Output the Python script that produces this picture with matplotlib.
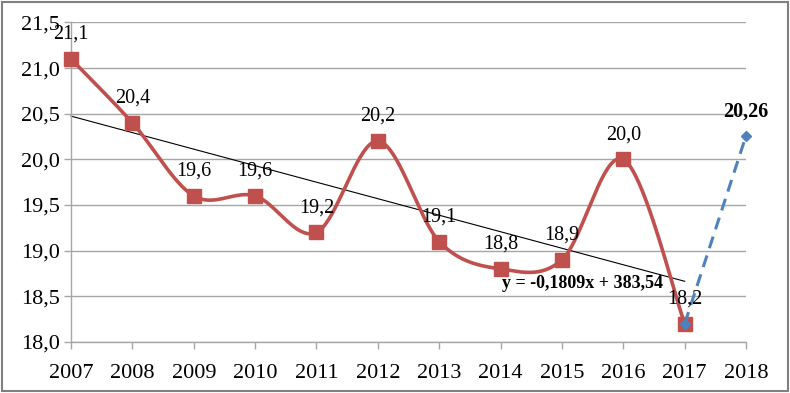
import numpy as np
import matplotlib.pyplot as plt
from matplotlib.patches import Rectangle

plt.rcParams['font.family'] = ['Liberation Serif', 'DejaVu Serif']

years = [2007, 2008, 2009, 2010, 2011, 2012, 2013, 2014, 2015, 2016, 2017]
values = [21.1, 20.4, 19.6, 19.6, 19.2, 20.2, 19.1, 18.8, 18.9, 20.0, 18.2]
forecast_years = [2017, 2018]
forecast_values = [18.2, 20.26]
trend_slope = -0.1809
trend_icept = 383.54
x_ticks = list(range(2007, 2019))
y_ticks = [18.0, 18.5, 19.0, 19.5, 20.0, 20.5, 21.0, 21.5]

RED = '#C0504D'
BLUE = '#4F81BD'
GRID = '#A6A6A6'


def catmull_rom(xs, ys, n=40):
    # smooth curve through points, like Excel's "smoothed line"
    xs = np.asarray(xs, float)
    ys = np.asarray(ys, float)
    px = np.concatenate([[xs[0]], xs, [xs[-1]]])
    py = np.concatenate([[ys[0]], ys, [ys[-1]]])
    out_x, out_y = [], []
    t = np.linspace(0, 1, n)
    for i in range(1, len(px) - 2):
        p0, p1, p2, p3 = px[i-1], px[i], px[i+1], px[i+2]
        q0, q1, q2, q3 = py[i-1], py[i], py[i+1], py[i+2]
        # bezier control points (tension 1/6)
        c1x, c1y = p1 + (p2 - p0) / 6, q1 + (q2 - q0) / 6
        c2x, c2y = p2 - (p3 - p1) / 6, q2 - (q3 - q1) / 6
        bx = (1-t)**3*p1 + 3*(1-t)**2*t*c1x + 3*(1-t)*t**2*c2x + t**3*p2
        by = (1-t)**3*q1 + 3*(1-t)**2*t*c1y + 3*(1-t)*t**2*c2y + t**3*q2
        out_x.extend(bx)
        out_y.extend(by)
    return np.array(out_x), np.array(out_y)


fig = plt.figure(figsize=(7.9, 3.93), dpi=100)
ax = fig.add_axes([0.0899, 0.1298, 0.8545, 0.8132])

sx, sy = catmull_rom(years, values)
ax.plot(sx, sy, color=RED, linewidth=2.6, zorder=3)
ax.plot(years, values, linestyle='none', marker='s', markersize=10,
        color=RED, zorder=4)

tx = np.array([years[0], years[-1]])
ax.plot(tx, trend_slope * tx + trend_icept, color='black', linewidth=0.8, zorder=2)

ax.plot(forecast_years, forecast_values, color=BLUE, linestyle='--',
        linewidth=2.2, dashes=(4, 2.5), marker='D', markersize=5, zorder=5)

for x, y in zip(years, values):
    ax.annotate(f"{y:.1f}".replace('.', ','), (x, y), xytext=(0, 11),
                textcoords='offset points', ha='center', va='bottom',
                fontsize=14.5, zorder=6)
ax.annotate(f"{forecast_values[-1]:.2f}".replace('.', ','),
            (forecast_years[-1], forecast_values[-1]), xytext=(0, 10),
            textcoords='offset points', ha='center', va='bottom',
            fontsize=14.5, fontweight='bold')

ax.text(2014.03, 18.64, "y = -0,1809x + 383,54", fontsize=13,
        fontweight='bold', ha='left', va='center', zorder=6)

ax.set_xlim(2007, 2018)
ax.set_ylim(18.0, 21.5)
ax.set_xticks(x_ticks)
ax.set_xticklabels([str(v) for v in x_ticks])
ax.set_yticks(y_ticks)
ax.set_yticklabels([f"{v:.1f}".replace('.', ',') for v in y_ticks])
ax.tick_params(labelsize=16, length=5, color=GRID, width=1, pad=3)
ax.tick_params(axis='x', pad=11)

ax.grid(axis='y', color=GRID, linewidth=1)
ax.set_axisbelow(True)
for side in ['top', 'right']:
    ax.spines[side].set_visible(False)
for side in ['left', 'bottom']:
    ax.spines[side].set_color(GRID)
    ax.spines[side].set_linewidth(1)
for ln in ax.lines:
    ln.set_clip_on(False)

fig.patches.append(Rectangle((0.003, 0.004), 0.994, 0.992, transform=fig.transFigure,
                             fill=False, edgecolor='#808080', linewidth=1.5))

fig.savefig("out.png", dpi=100)
